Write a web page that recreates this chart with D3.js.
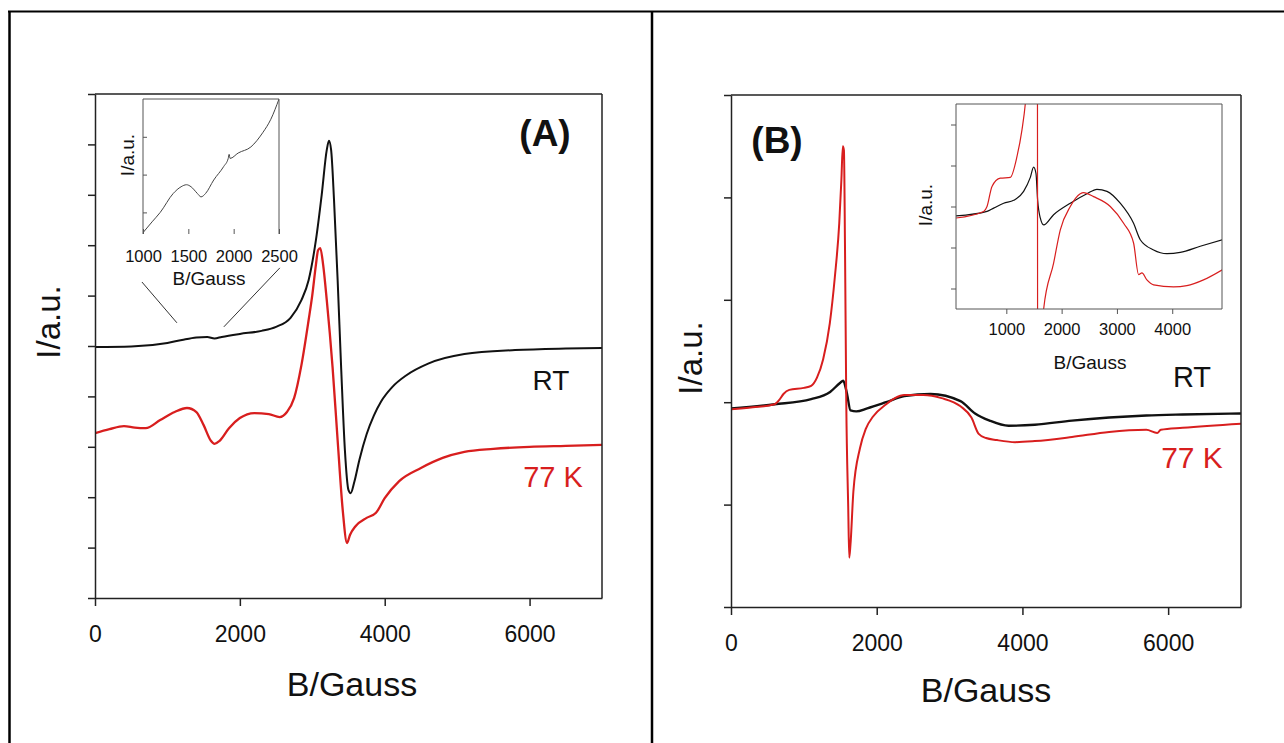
<!DOCTYPE html>
<html lang="en">
<head>
<meta charset="UTF-8">
<title>EPR spectra, RT and 77 K</title>
<script src="https://cdnjs.cloudflare.com/ajax/libs/d3/7.8.5/d3.min.js"></script>
<style>
    body { margin: 0; background: #fff; }
    svg { display: block; font-family: "Liberation Sans", Arial, sans-serif; }
    .ax path, .ax line { stroke: #222; stroke-width: 1.5px; }
    .ax text { fill: #111; }
    .inset path, .inset line { stroke: #555; stroke-width: 1px; }
</style>
</head>
<body>
<svg width="1284" height="743"></svg>
<script>
    // ---- data (B in Gauss, intensity in tick units) ----
    var xTicksMain = [0, 2000, 4000, 6000];
    var xTicksInsetA = [1000, 1500, 2000, 2500];
    var xTicksInsetB = [1000, 2000, 3000, 4000];

    // panel A
    var rtA = [[0,4.98],[500,4.99],[1000,5.06],[1200,5.12],[1400,5.17],[1550,5.18],[1650,5.15],[1750,5.18],
        [2000,5.24],[2300,5.30],[2500,5.38],[2700,5.56],[2850,5.91],[2950,6.31],[3050,7.10],[3130,8.00],
        [3200,8.89],[3230,9.07],[3260,8.89],[3300,7.90],[3350,6.31],[3400,4.52],[3450,2.94],[3500,2.14],
        [3530,2.08],[3580,2.30],[3650,2.74],[3750,3.25],[3850,3.62],[3950,3.90],[4100,4.18],[4300,4.42],
        [4600,4.65],[5100,4.84],[5800,4.92],[6500,4.95],[7000,4.96]];
    var k77A = [[0,3.27],[200,3.35],[400,3.41],[550,3.38],[700,3.37],[900,3.53],[1100,3.69],[1270,3.77],
        [1400,3.69],[1500,3.43],[1600,3.12],[1650,3.06],[1720,3.12],[1850,3.37],[2000,3.57],[2200,3.67],
        [2400,3.65],[2550,3.59],[2650,3.69],[2750,3.97],[2850,4.62],[2950,5.52],[3000,6.01],[3050,6.61],
        [3080,6.90],[3110,6.94],[3150,6.61],[3200,5.91],[3280,4.58],[3350,3.13],[3420,1.75],[3480,1.09],
        [3520,1.25],[3600,1.43],[3750,1.59],[3880,1.69],[4000,1.98],[4200,2.32],[4500,2.58],[4800,2.78],
        [5100,2.90],[5500,2.96],[6000,3.00],[6500,3.02],[7000,3.04]];
    var insetA = [[1000,0.1],[1100,0.9],[1190,1.6],[1333,3.0],[1420,3.5],[1480,3.65],[1530,3.5],[1600,3.0],
        [1640,2.75],[1690,3.0],[1780,4.0],[1890,5.0],[1940,5.6],[1950,5.9],[1960,5.6],[2050,6.0],
        [2190,6.45],[2320,7.5],[2410,8.5],[2500,10]];

    // panel B
    var rtB = [[0,1.94],[600,1.98],[1100,2.03],[1360,2.10],[1500,2.19],[1540,2.21],[1590,2.09],[1640,1.92],
        [1720,1.91],[1870,1.94],[2130,2.00],[2380,2.06],[2740,2.08],[3150,2.01],[3350,1.89],[3550,1.82],
        [3810,1.77],[4170,1.78],[4680,1.82],[5190,1.85],[5700,1.87],[6200,1.88],[7000,1.89]];
    var k77B = [[0,1.93],[300,1.95],[600,1.98],[660,2.02],[720,2.08],[800,2.12],[1000,2.14],[1100,2.16],
        [1180,2.24],[1265,2.42],[1356,2.77],[1425,3.22],[1486,3.75],[1515,4.17],[1535,4.50],[1550,4.46],
        [1565,3.49],[1582,2.01],[1609,0.97],[1623,0.48],[1640,0.61],[1680,1.13],[1770,1.55],[1850,1.74],
        [1950,1.86],[2130,1.98],[2250,2.04],[2380,2.07],[2640,2.07],[2890,2.04],[3150,1.96],[3300,1.85],
        [3400,1.69],[3500,1.65],[3650,1.63],[3900,1.61],[4170,1.62],[4680,1.66],[5190,1.71],[5700,1.73],
        [5850,1.70],[5900,1.73],[6200,1.75],[7000,1.79]];
    var insetRtB = [[90,2.27],[651,2.38],[771,2.46],[952,2.58],[1133,2.65],[1313,2.87],[1434,3.21],
        [1494,3.46],[1536,3.31],[1566,2.66],[1614,2.22],[1675,2.05],[1855,2.30],[2157,2.58],[2458,2.81],
        [2639,2.92],[2820,2.87],[3060,2.58],[3301,2.09],[3422,1.69],[3663,1.44],[3904,1.35],[4145,1.38],
        [4506,1.53],[4910,1.69]];
    var insetK77B = [[90,2.22],[590,2.38],[651,2.50],[741,2.99],[892,3.19],[1072,3.21],[1193,3.72],
        [1283,4.37],[1343,5.0],[1420,6.5],[1500,9],[1560,12],[1568,-6],[1600,-4],[1640,-1.5],[1675,0],
        [1855,1.12],[1976,1.93],[2157,2.50],[2337,2.81],[2397,2.84],[2578,2.74],[2880,2.50],[3121,2.09],
        [3301,1.61],[3392,0.84],[3452,0.88],[3542,0.71],[3663,0.59],[4024,0.54],[4265,0.57],[4566,0.71],
        [4910,0.96]];

    var red = "#d81e1e";
    var svg = d3.select("svg");
    var fmt = d3.format("d");

    // table cell borders
    svg.append("g").attr("stroke", "#000").attr("fill", "none")
        .call(function (g) {
            g.append("line").attr("x1", 8).attr("x2", 1284).attr("y1", 11.5).attr("y2", 11.5).attr("stroke-width", 2);
            g.append("line").attr("x1", 9.5).attr("x2", 9.5).attr("y1", 11).attr("y2", 743).attr("stroke-width", 2.5);
            g.append("line").attr("x1", 652).attr("x2", 652).attr("y1", 11).attr("y2", 743).attr("stroke-width", 2.5);
        });

    function scales(box, xd, yd) {
        return {
            x: d3.scaleLinear().domain(xd).range([box.left, box.right]),
            y: d3.scaleLinear().domain(yd).range([box.bottom, box.top])
        };
    }

    function lines(s, box, list, id) {
        svg.append("clipPath").attr("id", id).append("rect")
            .attr("x", box.left).attr("y", box.top)
            .attr("width", box.right - box.left).attr("height", box.bottom - box.top);
        var line = d3.line()
            .x(function (d) { return s.x(d[0]); })
            .y(function (d) { return s.y(d[1]); })
            .curve(d3.curveMonotoneX);
        list.forEach(function (l) {
            svg.append("path").datum(l.data)
                .attr("d", line)
                .attr("fill", "none")
                .attr("stroke", l.color)
                .attr("stroke-width", l.w)
                .attr("stroke-linejoin", "round")
                .attr("clip-path", "url(#" + id + ")");
        });
    }

    function label(x, y, txt, size, opts) {
        opts = opts || {};
        var t = svg.append("text")
            .attr("x", x).attr("y", y)
            .attr("text-anchor", "middle")
            .attr("dominant-baseline", "central")
            .style("font-size", size + "px")
            .style("font-weight", opts.bold ? "bold" : "normal")
            .attr("fill", opts.color || "#111")
            .text(txt);
        if (opts.rotate) t.attr("transform", "rotate(-90," + x + "," + y + ")");
        return t;
    }

    function mainPanel(box, yd, yTicks, series, id) {
        var s = scales(box, [0, 7000], yd);
        lines(s, box, series, id);

        var ax = svg.append("g").attr("class", "ax");
        ax.append("g").attr("transform", "translate(0," + box.bottom + ")")
            .call(d3.axisBottom(s.x).tickValues(xTicksMain).tickFormat(fmt)
                .tickSize(8).tickSizeOuter(0).tickPadding(20))
            .selectAll("text").style("font-size", "23px");
        ax.append("g").attr("transform", "translate(" + box.left + ",0)")
            .call(d3.axisLeft(s.y).tickValues(yTicks).tickFormat("")
                .tickSize(7).tickSizeOuter(0));
        ax.append("line").attr("x1", box.left).attr("x2", box.right)
            .attr("y1", box.top).attr("y2", box.top);
        ax.append("line").attr("x1", box.right).attr("x2", box.right)
            .attr("y1", box.top).attr("y2", box.bottom);
        ax.selectAll(".domain").attr("stroke", "#222").attr("stroke-width", 1.5);
        return s;
    }

    function insetPanel(box, xd, yd, xt, yt, series, id, sides) {
        var s = scales(box, xd, yd);
        lines(s, box, series, id);
        var g = svg.append("g").attr("class", "inset");
        g.append("g").attr("transform", "translate(0," + box.bottom + ")")
            .call(d3.axisBottom(s.x).tickValues(xt).tickFormat(fmt)
                .tickSize(sides.xTick).tickSizeOuter(0).tickPadding(sides.pad))
            .selectAll("text").style("font-size", "16.5px").attr("fill", "#111");
        g.append("g").attr("transform", "translate(" + box.left + ",0)")
            .call(d3.axisLeft(s.y).tickValues(yt).tickFormat("").tickSize(sides.yTick).tickSizeOuter(0));
        g.selectAll(".domain").remove();
        g.selectAll(".tick line").attr("stroke", sides.tick);
        var f = g.append("g").attr("stroke", sides.frame).attr("stroke-width", 1.5);
        f.append("line").attr("x1", box.left).attr("x2", box.left).attr("y1", box.top).attr("y2", box.bottom);
        f.append("line").attr("x1", box.left).attr("x2", box.right).attr("y1", box.top).attr("y2", box.top);
        f.append("line").attr("x1", box.right).attr("x2", box.right).attr("y1", box.top).attr("y2", box.bottom);
        if (sides.bottom) {
            f.append("line").attr("x1", box.left).attr("x2", box.right).attr("y1", box.bottom).attr("y2", box.bottom);
        }
        return s;
    }

    // ---------------- panel A ----------------
    var boxA = {left: 95, top: 94, right: 602, bottom: 598};
    var sA = mainPanel(boxA, [0, 10], d3.range(0, 11),
        [{data: rtA, color: "#111", w: 2}, {data: k77A, color: red, w: 2.3}], "clipA");

    label(48, 322, "I/a.u.", 33, {rotate: true});
    label(352, 684, "B/Gauss", 34);
    label(545, 133, "(A)", 37, {bold: true});
    label(551, 380, "RT", 28);
    label(553, 477, "77 K", 29, {color: red});

    var boxIA = {left: 143, top: 99, right: 279, bottom: 234};
    insetPanel(boxIA, [1000, 2500], [0, 10], xTicksInsetA, [1.6, 4.4, 7.2],
        [{data: insetA, color: "#444", w: 1}], "clipIA",
        {xTick: -5, yTick: -4, pad: 16, frame: "#9a9a9a", tick: "#c4c4c4", bottom: false});
    label(127, 155, "I/a.u.", 19, {rotate: true});
    label(209, 278, "B/Gauss", 19);

    // zoom guide lines from the inset to the RT curve
    var guides = [[[648, 6.27], [1131, 5.46]], [[2552, 6.55], [1779, 5.38]]];
    svg.append("g").selectAll("line").data(guides).join("line")
        .attr("x1", function (d) { return sA.x(d[0][0]); })
        .attr("y1", function (d) { return sA.y(d[0][1]); })
        .attr("x2", function (d) { return sA.x(d[1][0]); })
        .attr("y2", function (d) { return sA.y(d[1][1]); })
        .attr("stroke", "#333").attr("stroke-width", 1);

    // ---------------- panel B ----------------
    var boxB = {left: 731, top: 95, right: 1241, bottom: 607};
    mainPanel(boxB, [0, 5], d3.range(0, 6),
        [{data: rtB, color: "#111", w: 2.4}, {data: k77B, color: red, w: 2}], "clipB");

    label(690, 358, "I/a.u.", 33, {rotate: true});
    label(986, 690, "B/Gauss", 34);
    label(777, 140, "(B)", 37, {bold: true});
    label(1192, 377, "RT", 29);
    label(1192, 457, "77 K", 30, {color: red});

    var boxIB = {left: 956, top: 104, right: 1222, bottom: 309};
    insetPanel(boxIB, [90, 4900], [0, 5], xTicksInsetB, [0.5, 1.5, 2.5, 3.5, 4.5],
        [{data: insetRtB, color: "#111", w: 1.2}, {data: insetK77B, color: red, w: 1.2}], "clipIB",
        {xTick: 5, yTick: 5, pad: 9, frame: "#444", tick: "#555", bottom: true});
    label(925, 205, "I/a.u.", 19, {rotate: true});
    label(1090, 362, "B/Gauss", 19);
</script>
</body>
</html>
